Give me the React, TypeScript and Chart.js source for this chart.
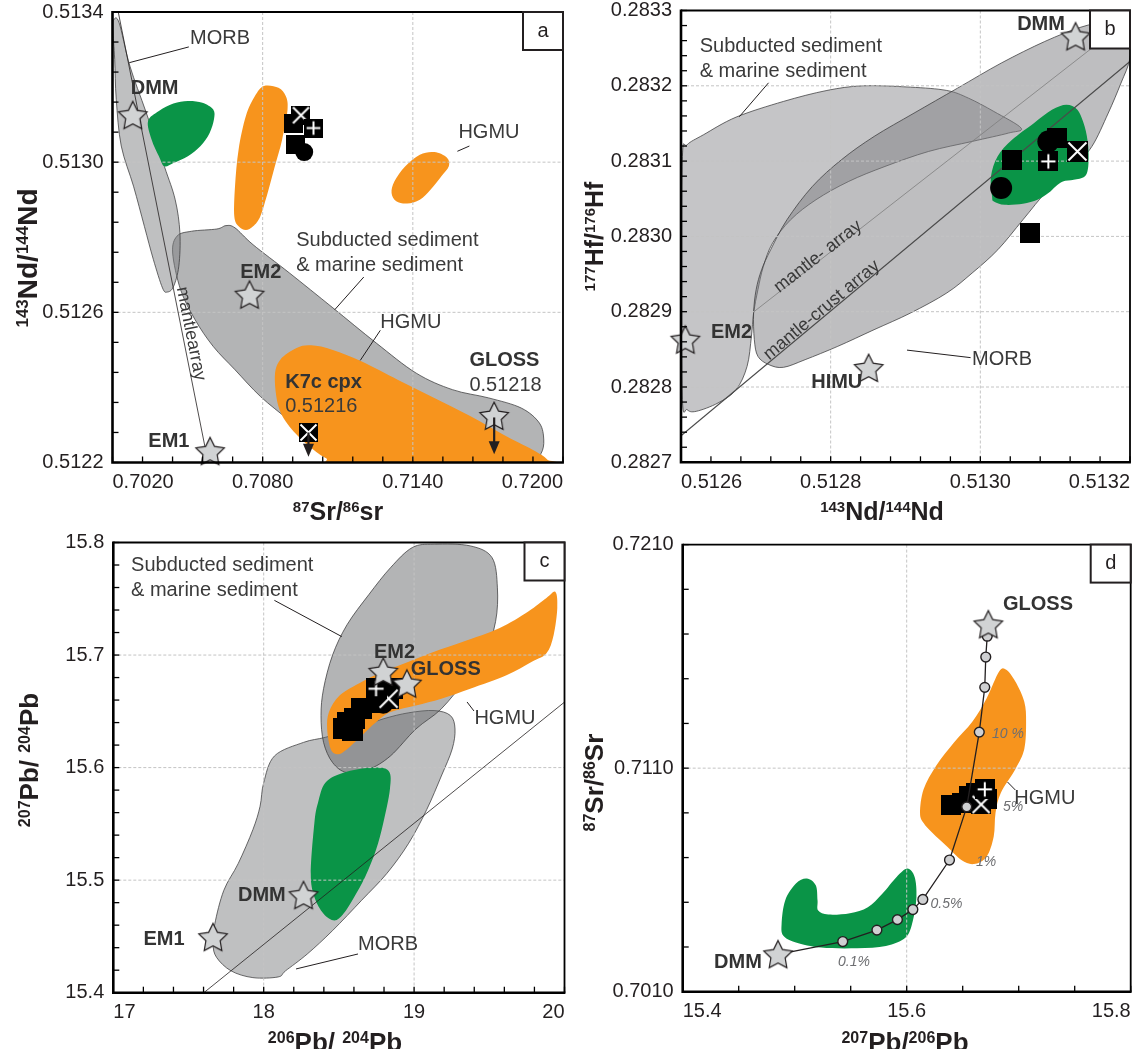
import React, { useEffect, useRef } from 'react';
import { Chart, registerables } from 'chart.js';

Chart.register(...registerables);

type Pt = [number, number];

const FONT = '"Liberation Sans", Helvetica, Arial, sans-serif';
const INK = '#231f20';
const LABEL = '#333333';
const ORANGE = '#f7941d';
const GREEN = '#0a9447';
const GRAY_LIGHT = 'rgba(128,129,132,0.5)';
const GRAY_DARK = 'rgba(104,105,108,0.5)';
const GRAY_B_SED = 'rgba(139,140,143,0.5)';
const GRAY_B_MORB = 'rgba(125,126,129,0.5)';
const EDGE = 'rgba(60,60,62,0.85)';
const STAR_FILL = '#d1d3d4';

// ---------------- Panel a : 143Nd/144Nd vs 87Sr/86Sr ----------------
const aXTicks = [0.702, 0.708, 0.714, 0.72];
const aYTicks = [0.5122, 0.5126, 0.513, 0.5134];
const aMorb: Pt[] = [
  [0.702043, 0.513379], [0.702261, 0.513372], [0.702695, 0.513256], [0.703347, 0.513132],
  [0.704071, 0.512989], [0.704505, 0.5129], [0.704693, 0.512812], [0.70465, 0.512723],
  [0.704433, 0.512668], [0.704187, 0.512654], [0.703998, 0.512665], [0.703636, 0.51274],
  [0.703274, 0.512829], [0.70284, 0.512936], [0.70235, 0.513043], [0.70215, 0.513167],
  [0.702087, 0.513274], [0.702014, 0.513354],
];
const aSediment: Pt[] = [
  [0.704404, 0.512758], [0.704578, 0.512803], [0.705157, 0.512816], [0.706171, 0.512822],
  [0.706533, 0.512831], [0.706895, 0.512825], [0.707619, 0.51278], [0.709067, 0.512705],
  [0.710804, 0.512612], [0.712542, 0.512518], [0.714135, 0.512438], [0.715583, 0.512394],
  [0.717031, 0.512372], [0.718334, 0.512345], [0.719058, 0.512305], [0.719232, 0.51226],
  [0.71913, 0.512225], [0.718769, 0.512207], [0.716307, 0.512196], [0.711963, 0.512196],
  [0.711094, 0.512203], [0.71008, 0.512256], [0.709067, 0.512312], [0.707908, 0.512376],
  [0.706895, 0.512447], [0.706026, 0.512509], [0.705302, 0.51258], [0.704722, 0.51266],
];
const aHgmuLow: Pt[] = [
  [0.708487, 0.512429], [0.708705, 0.512474], [0.709356, 0.512505], [0.709936, 0.512512],
  [0.710804, 0.5125], [0.711963, 0.512469], [0.713411, 0.51242], [0.714859, 0.512372],
  [0.716307, 0.512323], [0.717755, 0.512269], [0.718914, 0.512229], [0.719377, 0.512207],
  [0.719276, 0.512196], [0.711383, 0.512196], [0.710515, 0.512212], [0.709791, 0.512247],
  [0.709067, 0.512296], [0.708632, 0.512349],
];
const aHgmuHigh: Pt[] = [
  [0.706866, 0.512856], [0.706895, 0.512936], [0.707039, 0.513034], [0.707329, 0.513123],
  [0.707691, 0.513176], [0.708053, 0.513203], [0.708632, 0.513198], [0.708922, 0.513176],
  [0.708994, 0.51314], [0.708777, 0.51306], [0.708487, 0.512989], [0.708198, 0.512918],
  [0.707908, 0.512856], [0.707619, 0.512829], [0.707329, 0.512819], [0.707039, 0.512829],
];
const aHgmuRight: Pt[] = [
  [0.71315, 0.512918], [0.713266, 0.512949], [0.7137, 0.512989], [0.71428, 0.51302],
  [0.714859, 0.513027], [0.715366, 0.513012], [0.715438, 0.512989], [0.715149, 0.512963],
  [0.714714, 0.512927], [0.71428, 0.5129], [0.713773, 0.51289], [0.713339, 0.512896],
];
const aDepleted: Pt[] = [
  [0.703419, 0.513109], [0.703854, 0.513136], [0.704433, 0.513156], [0.705012, 0.513163],
  [0.705591, 0.513158], [0.706026, 0.51314], [0.706055, 0.513114], [0.705881, 0.513078],
  [0.705519, 0.513043], [0.705012, 0.513016], [0.704433, 0.512998], [0.704071, 0.512989],
  [0.703854, 0.513016], [0.703564, 0.51306],
];
const aMantleArray: Pt[] = [[0.70223, 0.5134], [0.70582, 0.5122]];
const aStars: Pt[] = [[0.70281, 0.513125], [0.707474, 0.512647], [0.7059, 0.51223], [0.71725, 0.512324]];
const aSquares: Pt[] = [[0.70923, 0.513103], [0.70933, 0.513048]];
const aCircles: Pt[] = [[0.70966, 0.513027]];
const aSquareX: Pt[] = [[0.70953, 0.513125], [0.70983, 0.51228]];
const aSquarePlus: Pt[] = [[0.71003, 0.513091]];
const aArrows: [number, number, number][] = [[0.70983, 0.51228, 0.512215], [0.71725, 0.51232, 0.512222]];

// ---------------- Panel b : 177Hf/176Hf vs 143Nd/144Nd ----------------
const bXTicks = [0.5126, 0.5128, 0.513, 0.5132];
const bYTicks = [0.2827, 0.2828, 0.2829, 0.283, 0.2831, 0.2832, 0.2833];
const bSediment: Pt[] = [
  [0.5126019, 0.2831062], [0.5126082, 0.2831217], [0.5126301, 0.283135], [0.5126737, 0.2831584],
  [0.5127368, 0.2831792], [0.512795, 0.2831938], [0.5128435, 0.2832], [0.5129066, 0.2831982],
  [0.5129551, 0.2831938], [0.5129842, 0.2831836], [0.5130181, 0.2831659], [0.5130545, 0.2831438],
  [0.5130375, 0.2831372], [0.512989, 0.2831261], [0.5129308, 0.2831128], [0.5128726, 0.2830929],
  [0.5128241, 0.283073], [0.5127804, 0.2830487], [0.5127465, 0.2830221], [0.5127223, 0.2829911],
  [0.5127101, 0.2829602], [0.5127028, 0.2829292], [0.512697, 0.2828982], [0.5126941, 0.2828672],
  [0.5126883, 0.2828274], [0.5126737, 0.2827965], [0.5126495, 0.2827788], [0.5126204, 0.2827677],
  [0.5126082, 0.2827699], [0.5126019, 0.2827832], [0.512601, 0.2829469],
];
const bMorb: Pt[] = [
  [0.5127368, 0.2828261], [0.5127174, 0.2828297], [0.5127028, 0.2828407], [0.512698, 0.2828628],
  [0.512697, 0.2828982], [0.5127004, 0.2829292], [0.5127077, 0.2829557], [0.5127198, 0.2829823],
  [0.5127416, 0.2830221], [0.5127756, 0.2830664], [0.5128144, 0.2831018], [0.512858, 0.2831327],
  [0.5129114, 0.2831637], [0.5129696, 0.2831969], [0.5130278, 0.2832301], [0.513086, 0.2832588],
  [0.5131345, 0.2832779], [0.5131685, 0.2832854], [0.5131927, 0.2832876], [0.5132, 0.2832743],
  [0.5132, 0.2832367], [0.5131879, 0.2832035], [0.5131709, 0.2831637], [0.5131491, 0.2831195],
  [0.5131248, 0.2830929], [0.5130904, 0.2830619], [0.5130569, 0.2830221], [0.5130234, 0.2829823],
  [0.512989, 0.2829513], [0.5129551, 0.2829248], [0.5129066, 0.2828982], [0.512858, 0.2828761],
  [0.5128095, 0.282854], [0.5127659, 0.2828363],
];
const bDepleted: Pt[] = [
  [0.5130157, 0.2830531], [0.5130142, 0.2830796], [0.513023, 0.2831062], [0.5130424, 0.2831283],
  [0.5130715, 0.2831504], [0.5130957, 0.2831681], [0.5131151, 0.2831748], [0.5131297, 0.2831681],
  [0.5131394, 0.283146], [0.5131442, 0.2831195], [0.5131442, 0.2830929], [0.5131394, 0.2830796],
  [0.5131248, 0.2830752], [0.5131103, 0.283073], [0.5131006, 0.2830664], [0.5130909, 0.2830575],
  [0.5130763, 0.2830487], [0.5130569, 0.2830434], [0.5130327, 0.283042], [0.5130181, 0.2830465],
];
const bMantleArray: Pt[] = [[0.512698, 0.2829004], [0.513149, 0.28325]];
const bMantleCrust: Pt[] = [[0.5126, 0.2827351], [0.5132, 0.2832323]];
const bStars: Pt[] = [[0.5131273, 0.2832655], [0.5126058, 0.2828628], [0.5128508, 0.2828252]];
const bSquares: Pt[] = [[0.5130424, 0.2831018], [0.5130666, 0.2830044]];
const bCircles: Pt[] = [[0.5130278, 0.2830642], [0.5130909, 0.2831261]];
const bSquares2: Pt[] = [[0.513103, 0.2831305]];
const bSquarePlus: Pt[] = [[0.5130909, 0.2830996]];
const bSquareX: Pt[] = [[0.5131297, 0.2831128]];

// ---------------- Panel c : 207Pb/204Pb vs 206Pb/204Pb ----------------
const cXTicks = [17, 18, 19, 20];
const cYTicks = [15.4, 15.5, 15.6, 15.7, 15.8];
const cMorb: Pt[] = [
  [18.265, 15.6224], [18.072, 15.6104], [18.0, 15.5866], [17.976, 15.5657], [17.928, 15.5448],
  [17.831, 15.5149], [17.735, 15.491], [17.675, 15.4612], [17.663, 15.4433], [17.687, 15.4313],
  [17.783, 15.4194], [17.928, 15.4134], [18.096, 15.414], [18.145, 15.4194], [18.289, 15.4343],
  [18.458, 15.4552], [18.651, 15.4821], [18.819, 15.506], [18.964, 15.5328], [19.084, 15.5627],
  [19.181, 15.5925], [19.253, 15.6164], [19.272, 15.6343], [19.241, 15.6463], [19.133, 15.6507],
  [18.964, 15.6487], [18.795, 15.6433], [18.602, 15.6343], [18.41, 15.6269],
];
const cSediment: Pt[] = [
  [18.988, 15.7955], [19.133, 15.7985], [19.373, 15.797], [19.518, 15.7866], [19.554, 15.7597],
  [19.542, 15.7299], [19.47, 15.7], [19.349, 15.6791], [19.181, 15.6522], [19.012, 15.6343],
  [18.843, 15.6104], [18.699, 15.5985], [18.554, 15.5955], [18.458, 15.6045], [18.398, 15.6224],
  [18.381, 15.6463], [18.398, 15.6701], [18.458, 15.7], [18.554, 15.7269], [18.699, 15.7537],
  [18.843, 15.7776],
];
const cHgmu: Pt[] = [
  [18.422, 15.6343], [18.434, 15.6493], [18.506, 15.6642], [18.651, 15.6761], [18.795, 15.6851],
  [18.964, 15.694], [19.133, 15.703], [19.325, 15.7119], [19.566, 15.7239], [19.759, 15.7388],
  [19.88, 15.7507], [19.94, 15.7561], [19.952, 15.7418], [19.928, 15.7179], [19.88, 15.7015],
  [19.783, 15.694], [19.614, 15.6821], [19.373, 15.6701], [19.181, 15.6612], [19.012, 15.6552],
  [18.843, 15.6493], [18.747, 15.6403], [18.651, 15.6284], [18.554, 15.6164], [18.494, 15.6119],
  [18.446, 15.6164],
];
const cDepleted: Pt[] = [
  [18.313, 15.506], [18.337, 15.5507], [18.361, 15.5687], [18.41, 15.5866], [18.53, 15.5955],
  [18.723, 15.6], [18.831, 15.597], [18.839, 15.5806], [18.795, 15.5507], [18.747, 15.5269],
  [18.675, 15.503], [18.602, 15.4851], [18.53, 15.4701], [18.47, 15.4642], [18.398, 15.4701],
  [18.337, 15.4851],
];
const cRefLine: Pt[] = [[17.602, 15.4], [20.0, 15.6582]];
const cStars: Pt[] = [[17.663, 15.4493], [18.265, 15.4866], [18.795, 15.6851], [18.952, 15.6746]];
const cSquares: Pt[] = [
  [18.53, 15.6343], [18.554, 15.6403], [18.59, 15.6328], [18.602, 15.6433], [18.651, 15.6522],
  [18.747, 15.6582], [18.795, 15.6642], [18.855, 15.6701],
];
const cCircles: Pt[] = [[18.795, 15.6567]];
const cSquarePlus: Pt[] = [[18.747, 15.6701]];
const cSquareX: Pt[] = [[18.831, 15.6612]];

// ---------------- Panel d : 87Sr/86Sr vs 207Pb/206Pb ----------------
const dXTicks = [15.4, 15.6, 15.8];
const dYTicks = [0.701, 0.711, 0.721];
const dHgmu: Pt[] = [
  [15.6119, 0.708997], [15.6151, 0.710051], [15.6263, 0.711106], [15.6424, 0.71216],
  [15.6584, 0.713064], [15.6713, 0.714118], [15.6825, 0.715323], [15.6889, 0.715398],
  [15.697, 0.714871], [15.705, 0.713967], [15.7066, 0.713064], [15.705, 0.711859],
  [15.697, 0.710955], [15.6841, 0.709901], [15.6793, 0.708997], [15.6777, 0.707943],
  [15.6713, 0.707039], [15.66, 0.706708], [15.6488, 0.706889], [15.636, 0.707491],
  [15.6231, 0.708094], [15.6151, 0.708545],
];
const dDepleted: Pt[] = [
  [15.4883, 0.704027], [15.4915, 0.705082], [15.5011, 0.705835], [15.5108, 0.70606],
  [15.5188, 0.705759], [15.5204, 0.705082], [15.521, 0.70463], [15.53, 0.704449],
  [15.5493, 0.704509], [15.5653, 0.70478], [15.5782, 0.705383], [15.591, 0.706136],
  [15.6006, 0.706512], [15.6071, 0.706136], [15.6087, 0.705232], [15.6055, 0.704178],
  [15.599, 0.703425], [15.5814, 0.703048], [15.5557, 0.702943], [15.5236, 0.702973],
  [15.5011, 0.703199], [15.4899, 0.7035],
];
const dMixing: Pt[] = [
  [15.4851, 0.702672], [15.5429, 0.703244], [15.5734, 0.703756], [15.5917, 0.704223],
  [15.6055, 0.704675], [15.6144, 0.705127], [15.6382, 0.706889], [15.6536, 0.709268],
  [15.6648, 0.712612], [15.6697, 0.714615], [15.6706, 0.71597], [15.6719, 0.716904],
  [15.6729, 0.717431],
];
const dStars: Pt[] = [[15.4851, 0.702672], [15.6729, 0.717431]];
const dSquares: Pt[] = [[15.6392, 0.709358], [15.649, 0.70945], [15.656, 0.70975], [15.662, 0.7099], [15.6713, 0.7096]];
const dSquarePlus: Pt[] = [[15.6697, 0.710051]];
const dSquareX: Pt[] = [[15.6665, 0.709374]];

// ---------------- helpers ----------------
function makeSquare(size: number, kind: string) {
  const c = document.createElement('canvas');
  c.width = size; c.height = size;
  const g = c.getContext('2d')!;
  g.fillStyle = '#000';
  g.fillRect(0, 0, size, size);
  g.strokeStyle = '#fff';
  g.lineWidth = 2;
  if (kind === 'plus') {
    const m = size / 2, r = size * 0.36;
    g.beginPath(); g.moveTo(m - r, m); g.lineTo(m + r, m); g.moveTo(m, m - r); g.lineTo(m, m + r); g.stroke();
  } else if (kind === 'x') {
    const p = 1.5;
    g.beginPath(); g.moveTo(p, p); g.lineTo(size - p, size - p); g.moveTo(size - p, p); g.lineTo(p, size - p); g.stroke();
  }
  return c;
}

function makeStar(R: number) {
  const s = Math.ceil(2 * R + 4);
  const c = document.createElement('canvas');
  c.width = s; c.height = s;
  const g = c.getContext('2d')!;
  const cx = s / 2, cy = s / 2 + R * 0.08;
  g.beginPath();
  for (let i = 0; i < 10; i++) {
    const r = i % 2 ? R * 0.5 : R;
    const a = -Math.PI / 2 + (i * Math.PI) / 5;
    const x = cx + r * Math.cos(a), y = cy + r * Math.sin(a);
    if (i === 0) g.moveTo(x, y); else g.lineTo(x, y);
  }
  g.closePath();
  g.fillStyle = STAR_FILL;
  g.fill();
  g.strokeStyle = INK;
  g.lineWidth = 1.2;
  g.stroke();
  return c;
}

function buildTicks(majors: number[], div: number) {
  const out: any[] = [];
  for (let i = 0; i < majors.length; i++) {
    out.push({ value: majors[i], major: true });
    if (i < majors.length - 1) {
      const step = (majors[i + 1] - majors[i]) / div;
      for (let k = 1; k < div; k++) out.push({ value: majors[i] + k * step, major: false });
    }
  }
  return out;
}

function smoothClosed(ctx: CanvasRenderingContext2D, pts: { x: number; y: number }[]) {
  const n = pts.length;
  ctx.moveTo(pts[0].x, pts[0].y);
  for (let i = 0; i < n; i++) {
    const p0 = pts[(i - 1 + n) % n], p1 = pts[i], p2 = pts[(i + 1) % n], p3 = pts[(i + 2) % n];
    const t = 1 / 6;
    ctx.bezierCurveTo(
      p1.x + (p2.x - p0.x) * t, p1.y + (p2.y - p0.y) * t,
      p2.x - (p3.x - p1.x) * t, p2.y - (p3.y - p1.y) * t,
      p2.x, p2.y,
    );
  }
  ctx.closePath();
}

function drawTitle(ctx: CanvasRenderingContext2D, parts: [string, number][], tx: number, ty: number, rotate: boolean, main: number, sup: number) {
  ctx.save();
  ctx.translate(tx, ty);
  if (rotate) ctx.rotate(-Math.PI / 2);
  const fonts = parts.map(([, s]) => `bold ${s ? sup : main}px ${FONT}`);
  let total = 0;
  parts.forEach(([t], i) => { ctx.font = fonts[i]; total += ctx.measureText(t).width; });
  let x = -total / 2;
  ctx.fillStyle = INK;
  ctx.textAlign = 'left';
  ctx.textBaseline = 'alphabetic';
  parts.forEach(([t, s], i) => {
    ctx.font = fonts[i];
    ctx.fillText(t, x, s ? -main * 0.32 : 0);
    x += ctx.measureText(t).width;
  });
  ctx.restore();
}

const toXY = (pts: Pt[]) => pts.map(([x, y]) => ({ x, y }));

// ---------------- panel specs (layout) ----------------
const SPECS: any[] = [
  {
    letter: 'a', left: 0, top: 0, w: 567, h: 520,
    area: { left: 112.5, top: 12, right: 563, bottom: 462.5 },
    x: { min: 0.702, max: 0.72, majors: aXTicks, div: 5, digits: 4 },
    y: { min: 0.5122, max: 0.5134, majors: aYTicks, div: 5, digits: 4 },
    xTitle: { parts: [['87', 1], ['Sr/', 0], ['86', 1], ['sr', 0]], c: 338, b: 520, main: 25, sup: 15 },
    yTitle: { parts: [['143', 1], ['Nd/', 0], ['144', 1], ['Nd', 0]], c: 258, b: 37, main: 28, sup: 17 },
    regions: [
      { pts: aSediment, fill: GRAY_DARK, stroke: EDGE },
      { pts: aMorb, fill: GRAY_LIGHT, stroke: EDGE },
      { pts: aHgmuLow, fill: ORANGE },
      { pts: aHgmuHigh, fill: ORANGE },
      { pts: aHgmuRight, fill: ORANGE },
      { pts: aDepleted, fill: GREEN },
    ],
    lines: [{ pts: aMantleArray, color: INK, width: 0.8 }],
    markers: [
      { pts: aSquares, kind: 'plain', size: 19 },
      { pts: aCircles, kind: 'circle', size: 18 },
      { pts: aSquareX, kind: 'x', size: 19 },
      { pts: aSquarePlus, kind: 'plus', size: 19 },
    ],
    stars: aStars, starR: 15,
    arrows: aArrows,
    texts: [
      { t: 'MORB', x: 0.7051, y: 0.51333 },
      { t: 'DMM', x: 0.70273, y: 0.513196, bold: true },
      { t: 'HGMU', x: 0.71582, y: 0.513079 },
      { t: 'Subducted sediment', x: 0.70934, y: 0.512791 },
      { t: '& marine sediment', x: 0.70934, y: 0.512724 },
      { t: 'EM2', x: 0.7071, y: 0.512705, bold: true },
      { t: 'HGMU', x: 0.7127, y: 0.512572 },
      { t: 'GLOSS', x: 0.71626, y: 0.512472, bold: true },
      { t: '0.51218', x: 0.71626, y: 0.512404 },
      { t: 'K7c cpx', x: 0.7089, y: 0.512412, bold: true },
      { t: '0.51216', x: 0.7089, y: 0.512348 },
      { t: 'EM1', x: 0.70343, y: 0.512257, bold: true },
    ],
    rotTexts: [{ t: 'mantlearray', x: 0.70513, y: 0.512543, line: 0, size: 18 }],
    leaders: [
      [0.70267, 0.513265, 0.70505, 0.513307],
      [0.71578, 0.513029, 0.71626, 0.513043],
      [0.71204, 0.512694, 0.71088, 0.512607],
      [0.7127, 0.512552, 0.7119, 0.512472],
    ],
  },
  {
    letter: 'b', left: 567, top: 0, w: 567, h: 520,
    area: { left: 114, top: 10.5, right: 563, bottom: 462.3 },
    x: { min: 0.5126, max: 0.5132, majors: bXTicks, div: 5, digits: 4 },
    y: { min: 0.2827, max: 0.2833, majors: bYTicks, div: 5, digits: 4 },
    xTitle: { parts: [['143', 1], ['Nd/', 0], ['144', 1], ['Nd', 0]], c: 315, b: 520, main: 25, sup: 15 },
    yTitle: { parts: [['177', 1], ['Hf/', 0], ['176', 1], ['Hf', 0]], c: 236.5, b: 36, main: 25, sup: 15 },
    regions: [
      { pts: bSediment, fill: GRAY_B_SED, stroke: EDGE },
      { pts: bMorb, fill: GRAY_B_MORB, stroke: EDGE },
      { pts: bDepleted, fill: GREEN },
    ],
    lines: [
      { pts: bMantleArray, color: '#7d7d7d', width: 0.8 },
      { pts: bMantleCrust, color: '#4a4a4a', width: 1.2 },
    ],
    markers: [
      { pts: bSquares, kind: 'plain', size: 20 },
      { pts: bCircles, kind: 'circle', size: 22 },
      { pts: bSquares2, kind: 'plain', size: 20 },
      { pts: bSquarePlus, kind: 'plus', size: 20 },
      { pts: bSquareX, kind: 'x', size: 21 },
    ],
    stars: bStars, starR: 15,
    arrows: [],
    texts: [
      { t: 'Subducted sediment', x: 0.512625, y: 0.283252 },
      { t: '& marine sediment', x: 0.512625, y: 0.283219 },
      { t: 'DMM', x: 0.513113, y: 0.283281, bold: true, align: 'right' },
      { t: 'EM2', x: 0.51264, y: 0.282872, bold: true },
      { t: 'HIMU', x: 0.512774, y: 0.282806, bold: true },
      { t: 'MORB', x: 0.512989, y: 0.282837 },
    ],
    rotTexts: [
      { t: 'mantle- array', x: 0.512783, y: 0.282973, line: 0, size: 18 },
      { t: 'mantle-crust array', x: 0.512788, y: 0.282902, line: 1, size: 18 },
    ],
    leaders: [
      [0.512717, 0.283204, 0.512678, 0.283159],
      [0.512902, 0.282849, 0.512987, 0.282839],
    ],
  },
  {
    letter: 'c', left: 0, top: 520, w: 567, h: 529,
    area: { left: 113.3, top: 22.5, right: 564.5, bottom: 472.7 },
    x: { min: 17, max: 20, majors: cXTicks, div: 5, digits: 0 },
    y: { min: 15.4, max: 15.8, majors: cYTicks, div: 5, digits: 1 },
    xTitle: { parts: [['206', 1], ['Pb/ ', 0], ['204', 1], ['Pb', 0]], c: 335, b: 531, main: 26, sup: 16 },
    yTitle: { parts: [['207', 1], ['Pb/ ', 0], ['204', 1], ['Pb', 0]], c: 240, b: 38, main: 26, sup: 16 },
    regions: [
      { pts: cMorb, fill: GRAY_LIGHT, stroke: EDGE },
      { pts: cSediment, fill: GRAY_DARK, stroke: EDGE },
      { pts: cHgmu, fill: ORANGE },
      { pts: cDepleted, fill: GREEN },
    ],
    lines: [{ pts: cRefLine, color: INK, width: 0.8 }],
    markers: [
      { pts: cSquares, kind: 'plain', size: 21 },
      { pts: cCircles, kind: 'circle', size: 20 },
      { pts: cSquareX, kind: 'x', size: 21 },
      { pts: cSquarePlus, kind: 'plus', size: 21 },
    ],
    stars: cStars, starR: 15,
    arrows: [],
    texts: [
      { t: 'Subducted sediment', x: 17.118, y: 15.7796 },
      { t: '& marine sediment', x: 17.118, y: 15.7574 },
      { t: 'EM2', x: 18.733, y: 15.7027, bold: true },
      { t: 'GLOSS', x: 18.978, y: 15.6872, bold: true },
      { t: 'HGMU', x: 19.401, y: 15.6436 },
      { t: 'DMM', x: 17.829, y: 15.4864, bold: true },
      { t: 'EM1', x: 17.201, y: 15.4473, bold: true },
      { t: 'MORB', x: 18.627, y: 15.4428 },
    ],
    rotTexts: [],
    leaders: [
      [18.071, 15.7486, 18.519, 15.7164],
      [19.352, 15.6583, 19.398, 15.6503],
      [18.215, 15.4211, 18.627, 15.4344],
    ],
  },
  {
    letter: 'd', left: 567, top: 520, w: 567, h: 529,
    area: { left: 115.7, top: 24.6, right: 563.7, bottom: 471.7 },
    x: { min: 15.4, max: 15.8, majors: dXTicks, div: 4, digits: 1 },
    y: { min: 0.701, max: 0.721, majors: dYTicks, div: 5, digits: 4 },
    xTitle: { parts: [['207', 1], ['Pb/', 0], ['206', 1], ['Pb', 0]], c: 338, b: 531, main: 26, sup: 16 },
    yTitle: { parts: [['87', 1], ['Sr/', 0], ['86', 1], ['Sr', 0]], c: 262.6, b: 36, main: 26, sup: 16 },
    regions: [
      { pts: dDepleted, fill: GREEN },
      { pts: dHgmu, fill: ORANGE },
    ],
    lines: [],
    mixing: dMixing,
    markers: [
      { pts: dSquares, kind: 'plain', size: 20 },
      { pts: dSquareX, kind: 'x', size: 20 },
      { pts: dSquarePlus, kind: 'plus', size: 20 },
    ],
    stars: dStars, starR: 15,
    arrows: [],
    texts: [
      { t: 'GLOSS', x: 15.686, y: 0.71832, bold: true },
      { t: 'DMM', x: 15.428, y: 0.702306, bold: true },
      { t: 'HGMU', x: 15.696, y: 0.709642 },
      { t: '0.1%', x: 15.5387, y: 0.702328, italic: true, size: 14, color: '#6d6e71' },
      { t: '0.5%', x: 15.6213, y: 0.704923, italic: true, size: 14, color: '#6d6e71' },
      { t: '1%', x: 15.6619, y: 0.706802, italic: true, size: 14, color: '#6d6e71' },
      { t: '5%', x: 15.686, y: 0.709262, italic: true, size: 14, color: '#6d6e71' },
      { t: '10 %', x: 15.6762, y: 0.712527, italic: true, size: 14, color: '#6d6e71' },
    ],
    rotTexts: [],
    leaders: [[15.69, 0.71038, 15.697, 0.710022]],
  },
];

function makeDecor(spec: any) {
  return {
    id: 'decor_' + spec.letter,
    beforeDatasetsDraw(chart: any) {
      const { ctx, chartArea: a } = chart;
      const xs = chart.scales.x, ys = chart.scales.y;
      ctx.save();
      ctx.beginPath();
      ctx.rect(a.left, a.top, a.right - a.left, a.bottom - a.top);
      ctx.clip();
      chart.data.datasets.forEach((ds: any, i: number) => {
        if (!ds.regionFill) return;
        const pts = chart.getDatasetMeta(i).data.map((p: any) => ({ x: p.x, y: p.y }));
        ctx.beginPath();
        smoothClosed(ctx, pts);
        ctx.fillStyle = ds.regionFill;
        ctx.fill();
        if (ds.regionStroke) {
          ctx.strokeStyle = ds.regionStroke;
          ctx.lineWidth = 0.9;
          ctx.stroke();
        }
      });
      // dashed grid at interior major ticks
      ctx.setLineDash([3, 2]);
      ctx.strokeStyle = '#c4c4c4';
      ctx.lineWidth = 1;
      spec.x.majors.forEach((v: number) => {
        if (v <= spec.x.min || v >= spec.x.max) return;
        const px = xs.getPixelForValue(v);
        ctx.beginPath(); ctx.moveTo(px, a.top); ctx.lineTo(px, a.bottom); ctx.stroke();
      });
      spec.y.majors.forEach((v: number) => {
        if (v <= spec.y.min || v >= spec.y.max) return;
        const py = ys.getPixelForValue(v);
        ctx.beginPath(); ctx.moveTo(a.left, py); ctx.lineTo(a.right, py); ctx.stroke();
      });
      ctx.restore();
    },
    afterDatasetsDraw(chart: any) {
      const { ctx, chartArea: a } = chart;
      const xs = chart.scales.x, ys = chart.scales.y;
      const X = (v: number) => xs.getPixelForValue(v);
      const Y = (v: number) => ys.getPixelForValue(v);
      ctx.save();
      // leader lines
      ctx.strokeStyle = '#231f20';
      ctx.lineWidth = 1;
      spec.leaders.forEach(([x1, y1, x2, y2]: number[]) => {
        ctx.beginPath(); ctx.moveTo(X(x1), Y(y1)); ctx.lineTo(X(x2), Y(y2)); ctx.stroke();
      });
      // arrows
      spec.arrows.forEach(([x, y1, y2]: number[]) => {
        const px = X(x), p1 = Y(y1), p2 = Y(y2);
        ctx.strokeStyle = '#231f20';
        ctx.fillStyle = '#231f20';
        ctx.lineWidth = 2.2;
        ctx.beginPath(); ctx.moveTo(px, p1); ctx.lineTo(px, p2 - 10); ctx.stroke();
        ctx.beginPath(); ctx.moveTo(px - 5.5, p2 - 13); ctx.lineTo(px + 5.5, p2 - 13); ctx.lineTo(px, p2); ctx.closePath(); ctx.fill();
      });
      // annotation texts
      ctx.textBaseline = 'middle';
      spec.texts.forEach((t: any) => {
        ctx.font = `${t.italic ? 'italic ' : ''}${t.bold ? 'bold ' : ''}${t.size || 20}px ${FONT}`;
        ctx.fillStyle = t.color || (t.bold ? LABEL : '#3a3a3a');
        ctx.textAlign = t.align || 'left';
        ctx.fillText(t.t, X(t.x), Y(t.y));
      });
      // rotated texts along reference lines
      spec.rotTexts.forEach((t: any) => {
        const [p1, p2] = spec.lines[t.line].pts;
        const ang = Math.atan2(Y(p2[1]) - Y(p1[1]), X(p2[0]) - X(p1[0]));
        ctx.save();
        ctx.translate(X(t.x), Y(t.y));
        ctx.rotate(ang);
        ctx.font = `${t.size}px ${FONT}`;
        ctx.fillStyle = '#3a3a3a';
        ctx.textAlign = 'center';
        ctx.fillText(t.t, 0, 0);
        ctx.restore();
      });
      // frame
      ctx.strokeStyle = '#000';
      ctx.lineWidth = 1.8;
      ctx.beginPath(); ctx.moveTo(a.left, a.top); ctx.lineTo(a.right, a.top); ctx.lineTo(a.right, a.bottom); ctx.stroke();
      ctx.lineWidth = 2.6;
      ctx.beginPath(); ctx.moveTo(a.left, a.top - 0.9); ctx.lineTo(a.left, a.bottom); ctx.lineTo(a.right + 0.9, a.bottom); ctx.stroke();
      // inward tick marks
      ctx.lineWidth = 1.3;
      xs.ticks.forEach((tk: any) => {
        const px = X(tk.value);
        ctx.beginPath(); ctx.moveTo(px, a.bottom); ctx.lineTo(px, a.bottom - 6); ctx.stroke();
      });
      ys.ticks.forEach((tk: any) => {
        const py = Y(tk.value);
        ctx.beginPath(); ctx.moveTo(a.left, py); ctx.lineTo(a.left + 6, py); ctx.stroke();
      });
      // panel letter box
      const bw = 40, bh = 38;
      ctx.fillStyle = '#fff';
      ctx.fillRect(a.right - bw, a.top, bw, bh);
      ctx.lineWidth = 2;
      ctx.strokeStyle = '#231f20';
      ctx.strokeRect(a.right - bw, a.top, bw, bh);
      ctx.fillStyle = INK;
      ctx.font = `20px ${FONT}`;
      ctx.textAlign = 'center';
      ctx.textBaseline = 'middle';
      ctx.fillText(spec.letter, a.right - bw / 2, a.top + bh / 2);
      // axis titles
      drawTitle(ctx, spec.xTitle.parts, spec.xTitle.c, spec.xTitle.b, false, spec.xTitle.main, spec.xTitle.sup);
      drawTitle(ctx, spec.yTitle.parts, spec.yTitle.b, spec.yTitle.c, true, spec.yTitle.main, spec.yTitle.sup);
      ctx.restore();
    },
  };
}

function buildConfig(spec: any) {
  const datasets: any[] = [];
  spec.regions.forEach((r: any) => datasets.push({
    data: toXY(r.pts), regionFill: r.fill, regionStroke: r.stroke,
    pointRadius: 0, showLine: false, order: 100,
  }));
  spec.lines.forEach((l: any) => datasets.push({
    data: toXY(l.pts), showLine: true, borderColor: l.color, borderWidth: l.width,
    pointRadius: 0, order: 50,
  }));
  spec.markers.forEach((m: any, i: number) => datasets.push({
    data: toXY(m.pts),
    pointStyle: m.kind === 'circle' ? 'circle' : makeSquare(m.size, m.kind),
    pointRadius: m.size / 2,
    backgroundColor: '#000', borderColor: '#000', borderWidth: 0,
    pointBackgroundColor: '#000', pointBorderColor: '#000', pointBorderWidth: 0,
    showLine: false, order: 30 - i, clip: false,
  }));
  if (spec.mixing) {
    const n = spec.mixing.length;
    datasets.push({
      data: toXY(spec.mixing), showLine: true, borderColor: INK, borderWidth: 1.3,
      pointRadius: (c: any) => (c.dataIndex === 0 || c.dataIndex === n - 1 ? 0 : 4.9),
      pointBackgroundColor: '#cfd0d2', pointBorderColor: INK, pointBorderWidth: 1.4,
      order: 5, clip: false,
    });
  }
  datasets.push({
    data: toXY(spec.stars), pointStyle: makeStar(spec.starR), pointRadius: spec.starR,
    showLine: false, order: 1, clip: false,
  });

  const area = spec.area;
  const tickFont = { family: FONT, size: 20, lineHeight: 1 };
  const zeroPad = (s: any) => { s.paddingTop = 0; s.paddingBottom = 0; s.paddingLeft = 0; s.paddingRight = 0; };
  return {
    type: 'scatter',
    data: { datasets },
    options: {
      animation: false,
      responsive: false,
      devicePixelRatio: 1,
      events: [],
      layout: { autoPadding: false, padding: { left: 0, top: area.top, right: spec.w - area.right, bottom: 0 } },
      plugins: { legend: { display: false }, tooltip: { enabled: false } },
      scales: {
        x: {
          type: 'linear', position: 'bottom', min: spec.x.min, max: spec.x.max,
          afterBuildTicks: (s: any) => { s.ticks = buildTicks(spec.x.majors, spec.x.div); },
          afterFit: (s: any) => { s.height = spec.h - area.bottom; zeroPad(s); },
          grid: { display: false, drawTicks: false },
          border: { display: false },
          ticks: {
            autoSkip: false, maxRotation: 0, minRotation: 0, padding: 10, align: 'inner',
            font: tickFont, color: INK,
            callback: (v: any, i: number, t: any[]) => (t[i].major ? Number(v).toFixed(spec.x.digits) : ''),
          },
        },
        y: {
          type: 'linear', position: 'left', min: spec.y.min, max: spec.y.max,
          afterBuildTicks: (s: any) => { s.ticks = buildTicks(spec.y.majors, spec.y.div); },
          afterFit: (s: any) => { s.width = area.left; zeroPad(s); },
          grid: { display: false, drawTicks: false },
          border: { display: false },
          ticks: {
            autoSkip: false, padding: 9,
            font: tickFont, color: INK,
            callback: (v: any, i: number, t: any[]) => (t[i].major ? Number(v).toFixed(spec.y.digits) : ''),
          },
        },
      },
    },
    plugins: [makeDecor(spec)],
  };
}

function Panel({ spec }: { spec: any }) {
  const ref = useRef<HTMLCanvasElement>(null);
  useEffect(() => {
    const chart = new Chart(ref.current as HTMLCanvasElement, buildConfig(spec) as any);
    return () => chart.destroy();
  }, [spec]);
  return (
    <canvas
      ref={ref}
      width={spec.w}
      height={spec.h}
      style={{ position: 'absolute', left: spec.left, top: spec.top, width: spec.w, height: spec.h }}
    />
  );
}

export default function App() {
  return (
    <div style={{ position: 'absolute', left: 0, top: 0, width: 1134, height: 1049, background: '#fff', overflow: 'hidden' }}>
      {SPECS.map((s) => <Panel key={s.letter} spec={s} />)}
    </div>
  );
}
